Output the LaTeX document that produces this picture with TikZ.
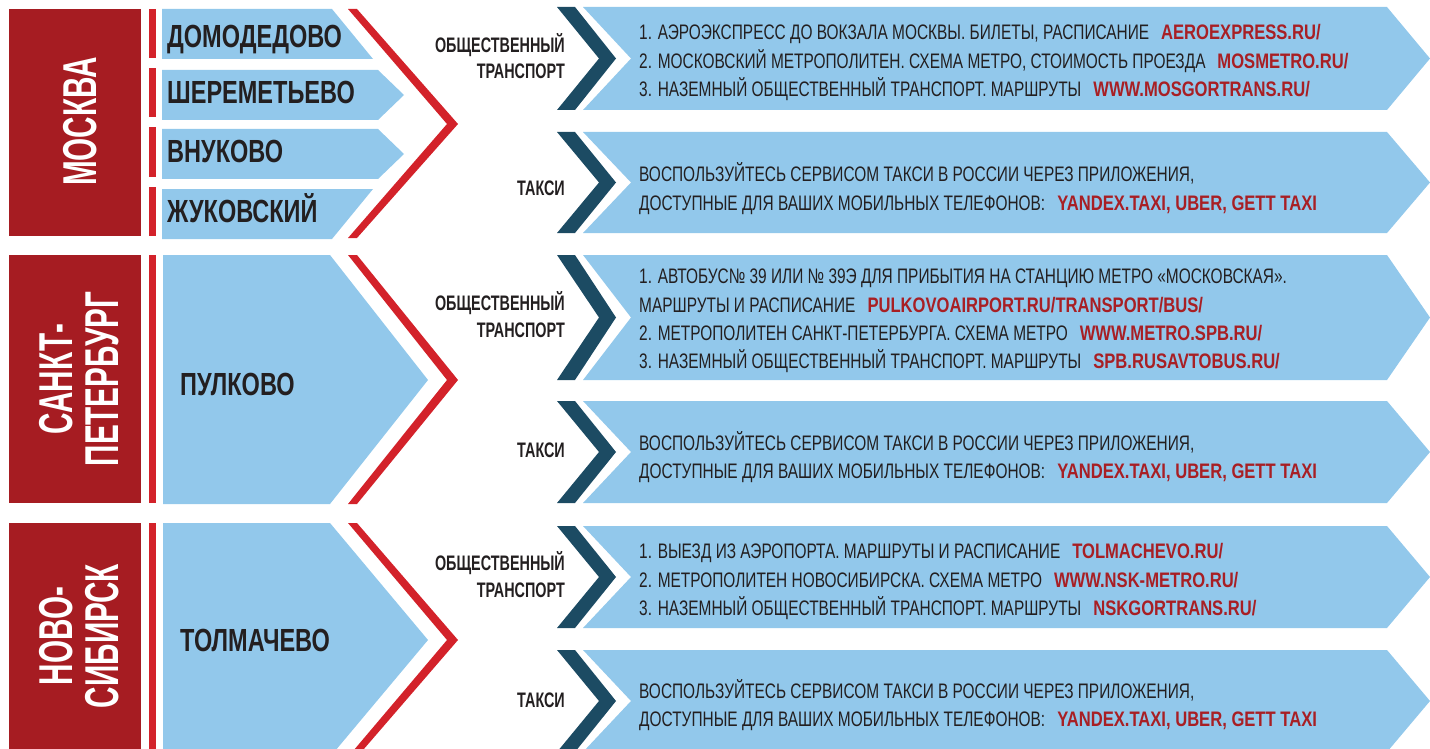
\documentclass[tikz,border=0pt]{standalone}
\usepackage{fontspec}
\setmainfont[FakeStretch=0.735]{Liberation Sans}
\newfontfamily\urlfont[FakeStretch=0.79]{Liberation Sans}
\newfontfamily\labfont[FakeStretch=0.685]{Liberation Sans}
\newfontfamily\airfont[FakeStretch=0.735]{Liberation Sans}
\newfontfamily\cityfont[FakeStretch=0.625]{Liberation Sans}
\definecolor{cityred}{HTML}{A61C22}
\definecolor{brightred}{HTML}{D3222A}
\definecolor{lightblue}{HTML}{92C8EB}
\definecolor{darkblue}{HTML}{1C4B63}
\definecolor{urlred}{HTML}{A81F24}
\definecolor{textdark}{HTML}{231F20}
\newcommand{\lnk}[1]{\hspace{12pt}{\urlfont\bfseries\color{urlred}#1}}
\newcommand{\tarrow}[2]{%
  \fill[darkblue] (557,#1) -- (575,#1) -- (616,{(#1+#2)/2}) -- (575,#2) -- (557,#2) -- (599,{(#1+#2)/2}) -- cycle;
  \fill[lightblue] (583,#1) -- (1387,#1) -- (1430,{(#1+#2)/2}) -- (1387,#2) -- (583,#2) -- (631,{(#1+#2)/2}) -- cycle;
}
\begin{document}
\begin{tikzpicture}[x=1pt,y=-1pt,
  txt/.style={anchor=base west, inner sep=0pt, text=textdark, font=\fontsize{21}{21}\selectfont},
  lab/.style={anchor=base east, inner sep=0pt, text=textdark, font=\labfont\bfseries\fontsize{21}{21}\selectfont},
  air/.style={anchor=base west, inner sep=0pt, text=textdark, font=\airfont\bfseries\fontsize{32}{32}\selectfont},
  city/.style={rotate=90, anchor=center, inner sep=0pt, text=white, align=center, font=\cityfont\bfseries\fontsize{47.5}{46}\selectfont},
]
\useasboundingbox (0,0) rectangle (1430,749);
\clip (0,0) rectangle (1430,749);

% ---------------- MOSCOW ----------------
\fill[cityred] (9,9) rectangle (141,236);
\fill[brightred] (149,9) rectangle (156,58);
\fill[brightred] (149,68) rectangle (156,117);
\fill[brightred] (149,127) rectangle (156,177);
\fill[brightred] (149,187) rectangle (156,236);
\fill[lightblue] (162,9) -- (332,9) -- (373,59) -- (162,59) -- cycle;
\fill[lightblue] (162,70) -- (378,70) -- (404,95) -- (378,120) -- (162,120) -- cycle;
\fill[lightblue] (162,129) -- (378,129) -- (404,154) -- (378,179) -- (162,179) -- cycle;
\fill[lightblue] (162,189) -- (373,189) -- (332,239) -- (162,239) -- cycle;
\fill[brightred] (348,9) -- (357,9) -- (458,124) -- (357,238) -- (348,238) -- (447,124) -- cycle;
\node[city] (msk) at (80,121.5) {МОСКВА};
\node[air] (dme) at (167,48) {ДОМОДЕДОВО};
\node[air] (svo) at (167,104) {ШЕРЕМЕТЬЕВО};
\node[air] (vko) at (167,163) {ВНУКОВО};
\node[air] (zia) at (167,222) {ЖУКОВСКИЙ};
\tarrow{7}{110}
\tarrow{132}{233}
\node[lab] (mskpub1) at (565,53) {ОБЩЕСТВЕННЫЙ};
\node[lab] (mskpub2) at (565,79) {ТРАНСПОРТ};
\node[lab] (msktaxi) at (565,196) {ТАКСИ};
\node[txt] (m1) at (639,40) {1. АЭРОЭКСПРЕСС ДО ВОКЗАЛА МОСКВЫ. БИЛЕТЫ, РАСПИСАНИЕ\lnk{AEROEXPRESS.RU/}};
\node[txt] (m2) at (639,68.5) {2. МОСКОВСКИЙ МЕТРОПОЛИТЕН. СХЕМА МЕТРО, СТОИМОСТЬ ПРОЕЗДА\lnk{MOSMETRO.RU/}};
\node[txt] (m3) at (639,97) {3. НАЗЕМНЫЙ ОБЩЕСТВЕННЫЙ ТРАНСПОРТ. МАРШРУТЫ\lnk{WWW.MOSGORTRANS.RU/}};
\node[txt] (mt1) at (639,182) {ВОСПОЛЬЗУЙТЕСЬ СЕРВИСОМ ТАКСИ В РОССИИ ЧЕРЕЗ ПРИЛОЖЕНИЯ,};
\node[txt] (mt2) at (639,210) {ДОСТУПНЫЕ ДЛЯ ВАШИХ МОБИЛЬНЫХ ТЕЛЕФОНОВ:\lnk{YANDEX.TAXI, UBER, GETT TAXI}};

% ---------------- SAINT PETERSBURG ----------------
\fill[cityred] (9,255) rectangle (141,503);
\fill[brightred] (149,255) rectangle (156,503);
\fill[lightblue] (163,255) -- (330,255) -- (428,380) -- (330,504) -- (163,504) -- cycle;
\fill[brightred] (348,255) -- (357,255) -- (458,380) -- (357,504) -- (348,504) -- (447,380) -- cycle;
\node[city] (spb) at (79.5,379) {САНКТ-\\ПЕТЕРБУРГ};
\node[air] (led) at (180,395) {ПУЛКОВО};
\tarrow{255}{380}
\tarrow{401}{503}
\node[lab] (spbpub1) at (565,310) {ОБЩЕСТВЕННЫЙ};
\node[lab] (spbpub2) at (565,337) {ТРАНСПОРТ};
\node[lab] (spbtaxi) at (565,457) {ТАКСИ};
\node[txt] (s1) at (639,283) {1. АВТОБУС№ 39 ИЛИ № 39Э ДЛЯ ПРИБЫТИЯ НА СТАНЦИЮ МЕТРО «МОСКОВСКАЯ».};
\node[txt] (s2) at (639,312) {МАРШРУТЫ И РАСПИСАНИЕ\lnk{PULKOVOAIRPORT.RU/TRANSPORT/BUS/}};
\node[txt] (s3) at (639,340) {2. МЕТРОПОЛИТЕН САНКТ-ПЕТЕРБУРГА. СХЕМА МЕТРО\lnk{WWW.METRO.SPB.RU/}};
\node[txt] (s4) at (639,368) {3. НАЗЕМНЫЙ ОБЩЕСТВЕННЫЙ ТРАНСПОРТ. МАРШРУТЫ\lnk{SPB.RUSAVTOBUS.RU/}};
\node[txt] (st1) at (639,450) {ВОСПОЛЬЗУЙТЕСЬ СЕРВИСОМ ТАКСИ В РОССИИ ЧЕРЕЗ ПРИЛОЖЕНИЯ,};
\node[txt] (st2) at (639,478) {ДОСТУПНЫЕ ДЛЯ ВАШИХ МОБИЛЬНЫХ ТЕЛЕФОНОВ:\lnk{YANDEX.TAXI, UBER, GETT TAXI}};

% ---------------- NOVOSIBIRSK ----------------
\fill[cityred] (9,523) rectangle (141,760);
\fill[brightred] (149,523) rectangle (156,760);
\fill[lightblue] (163,523) -- (330,523) -- (428,640) -- (330,757) -- (163,757) -- cycle;
\fill[brightred] (348,523) -- (357,523) -- (458,640) -- (357,757) -- (348,757) -- (447,640) -- cycle;
\node[city] (nsk) at (79.5,636) {НОВО-\\СИБИРСК};
\node[air] (ovb) at (180,651) {ТОЛМАЧЕВО};
\tarrow{526}{628}
\tarrow{650}{752}
\node[lab] (nskpub1) at (565,570.5) {ОБЩЕСТВЕННЫЙ};
\node[lab] (nskpub2) at (565,597.5) {ТРАНСПОРТ};
\node[lab] (nsktaxi) at (565,707.5) {ТАКСИ};
\node[txt] (n1) at (639,558.5) {1. ВЫЕЗД ИЗ АЭРОПОРТА. МАРШРУТЫ И РАСПИСАНИЕ\lnk{TOLMACHEVO.RU/}};
\node[txt] (n2) at (639,587) {2. МЕТРОПОЛИТЕН НОВОСИБИРСКА. СХЕМА МЕТРО\lnk{WWW.NSK-METRO.RU/}};
\node[txt] (n3) at (639,615.5) {3. НАЗЕМНЫЙ ОБЩЕСТВЕННЫЙ ТРАНСПОРТ. МАРШРУТЫ\lnk{NSKGORTRANS.RU/}};
\node[txt] (nt1) at (639,698) {ВОСПОЛЬЗУЙТЕСЬ СЕРВИСОМ ТАКСИ В РОССИИ ЧЕРЕЗ ПРИЛОЖЕНИЯ,};
\node[txt] (nt2) at (639,726) {ДОСТУПНЫЕ ДЛЯ ВАШИХ МОБИЛЬНЫХ ТЕЛЕФОНОВ:\lnk{YANDEX.TAXI, UBER, GETT TAXI}};
\end{tikzpicture}
\end{document}
